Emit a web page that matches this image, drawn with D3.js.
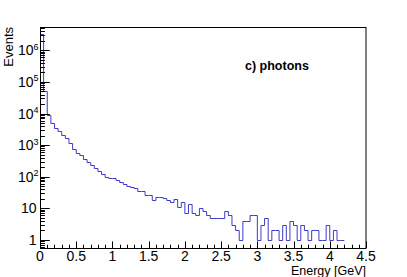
<!DOCTYPE html>
<html>
<head>
<meta charset="utf-8">
<script src="https://cdn.jsdelivr.net/npm/d3@7"></script>
<style>
  body { margin: 0; background: #fff; }
  svg { display: block; font-family: "Liberation Sans", Arial, sans-serif; }
</style>
</head>
<body>
<svg id="chart" width="407" height="277"></svg>
<script>
var W = 407, H = 277;
var frame = { left: 40, top: 27, right: 366, bottom: 248 };

// histogram: 0.05 GeV bins starting at 0
var binWidth = 0.05;
var counts = [
  3200000, 50000, 9000, 5000, 3500, 2800, 2100, 1650, 1200, 750,
  580, 490, 370, 280, 235, 190, 150, 118, 100, 92,
  88, 80, 68, 58, 50, 47, 45, 36, 35, 27,
  27, 18, 22, 22, 21, 18, 16, 19, 11, 16,
  7, 14, 7, 6, 10, 8, 6, 5, 5, 5,
  5, 8, 6, 3, 2, 1, 4, 4, 6, 6,
  1, 3, 5, 1, 2, 2, 1, 3, 1, 4,
  3, 1, 3, 2, 1, 2, 2, 1, 1, 3,
  1, 2, 1, 1
];

var xTicks = [0, 0.5, 1, 1.5, 2, 2.5, 3, 3.5, 4, 4.5];
var xTickLabels = ["0", "0.5", "1", "1.5", "2", "2.5", "3", "3.5", "4", "4.5"];
var yDecades = [0, 1, 2, 3, 4, 5, 6];

var svg = d3.select("#chart");

var x = d3.scaleLinear().domain([0, 4.5]).range([frame.left, frame.right]);
var y = d3.scaleLog().domain([0.545, 5.53e6]).range([frame.bottom, frame.top]);

svg.append("rect").attr("width", W).attr("height", H).attr("fill", "#fff");

svg.append("clipPath").attr("id", "clip")
  .append("rect")
  .attr("x", frame.left).attr("y", frame.top)
  .attr("width", frame.right - frame.left).attr("height", frame.bottom - frame.top);

// histogram outline
var pts = counts.map(function (c, i) { return [i * binWidth, c]; });
pts.push([counts.length * binWidth, counts[counts.length - 1]]);

var line = d3.line()
  .x(function (d) { return x(d[0]); })
  .y(function (d) { return Math.round(y(d[1])) + 0.5; })
  .curve(d3.curveStepAfter);

svg.append("path")
  .attr("clip-path", "url(#clip)")
  .attr("d", line(pts))
  .attr("fill", "none")
  .attr("stroke", "#3c3cc8")
  .attr("stroke-width", 1);

// x axis ticks (inside, pointing up)
var xMinor = d3.range(0, 46).map(function (i) { return i / 10; });
svg.append("g").selectAll("line")
  .data(xMinor)
  .join("line")
  .attr("x1", function (d) { return Math.round(x(d)) + 0.5; })
  .attr("x2", function (d) { return Math.round(x(d)) + 0.5; })
  .attr("y1", frame.bottom)
  .attr("y2", function (d, i) { return frame.bottom - (i % 5 == 0 ? 6.6 : 3.3); })
  .attr("stroke", "#000")
  .attr("stroke-width", 1);

svg.append("g").selectAll("text")
  .data(xTicks)
  .join("text")
  .attr("x", function (d) { return x(d); })
  .attr("y", 260.5)
  .attr("text-anchor", "middle")
  .attr("font-size", 14)
  .attr("fill", "#000")
  .text(function (d, i) { return xTickLabels[i]; });

// y axis ticks (log, inside, pointing right)
var yMinor = [];
yDecades.forEach(function (p) {
  for (var k = 1; k <= 9; k++) {
    var v = k * Math.pow(10, p);
    if (v <= 5.53e6) yMinor.push({ v: v, major: k == 1 });
  }
});
yMinor.unshift({ v: 0.6, major: false }, { v: 0.7, major: false }, { v: 0.8, major: false }, { v: 0.9, major: false });

svg.append("g").selectAll("line")
  .data(yMinor)
  .join("line")
  .attr("x1", frame.left)
  .attr("x2", function (d) { return frame.left + (d.major ? 9.8 : 4.9); })
  .attr("y1", function (d) { return Math.round(y(d.v)) + 0.5; })
  .attr("y2", function (d) { return Math.round(y(d.v)) + 0.5; })
  .attr("stroke", "#000")
  .attr("stroke-width", 1);

var yLab = svg.append("g").selectAll("g")
  .data(yDecades)
  .join("g")
  .attr("transform", function (d) { return "translate(0," + y(Math.pow(10, d)) + ")"; });

yLab.append("text")
  .attr("x", function (d) { return d < 2 ? 36.5 : 33.5; })
  .attr("y", 5)
  .attr("text-anchor", "end")
  .attr("font-size", 14)
  .attr("fill", "#000")
  .text(function (d) { return d == 0 ? "1" : "10"; });

yLab.filter(function (d) { return d >= 2; })
  .append("text")
  .attr("x", 33.5)
  .attr("y", -0.5)
  .attr("font-size", 9)
  .attr("fill", "#000")
  .text(function (d) { return d; });

// frame
svg.append("rect")
  .attr("x", frame.left + 0.5).attr("y", frame.top + 0.5)
  .attr("width", frame.right - frame.left - 0.5)
  .attr("height", frame.bottom - frame.top)
  .attr("fill", "none")
  .attr("stroke", "#000")
  .attr("stroke-width", 1);

// titles
svg.append("text")
  .attr("x", frame.right)
  .attr("y", 275)
  .attr("text-anchor", "end")
  .attr("font-size", 12.5)
  .attr("fill", "#000")
  .text("Energy [GeV]");

svg.append("text")
  .attr("transform", "translate(13," + frame.top + ") rotate(-90)")
  .attr("text-anchor", "end")
  .attr("font-size", 13)
  .attr("fill", "#000")
  .text("Events");

svg.append("text")
  .attr("x", 245)
  .attr("y", 69.5)
  .attr("font-size", 12.5)
  .attr("font-weight", "bold")
  .attr("fill", "#000")
  .text("c) photons");
</script>
</body>
</html>
